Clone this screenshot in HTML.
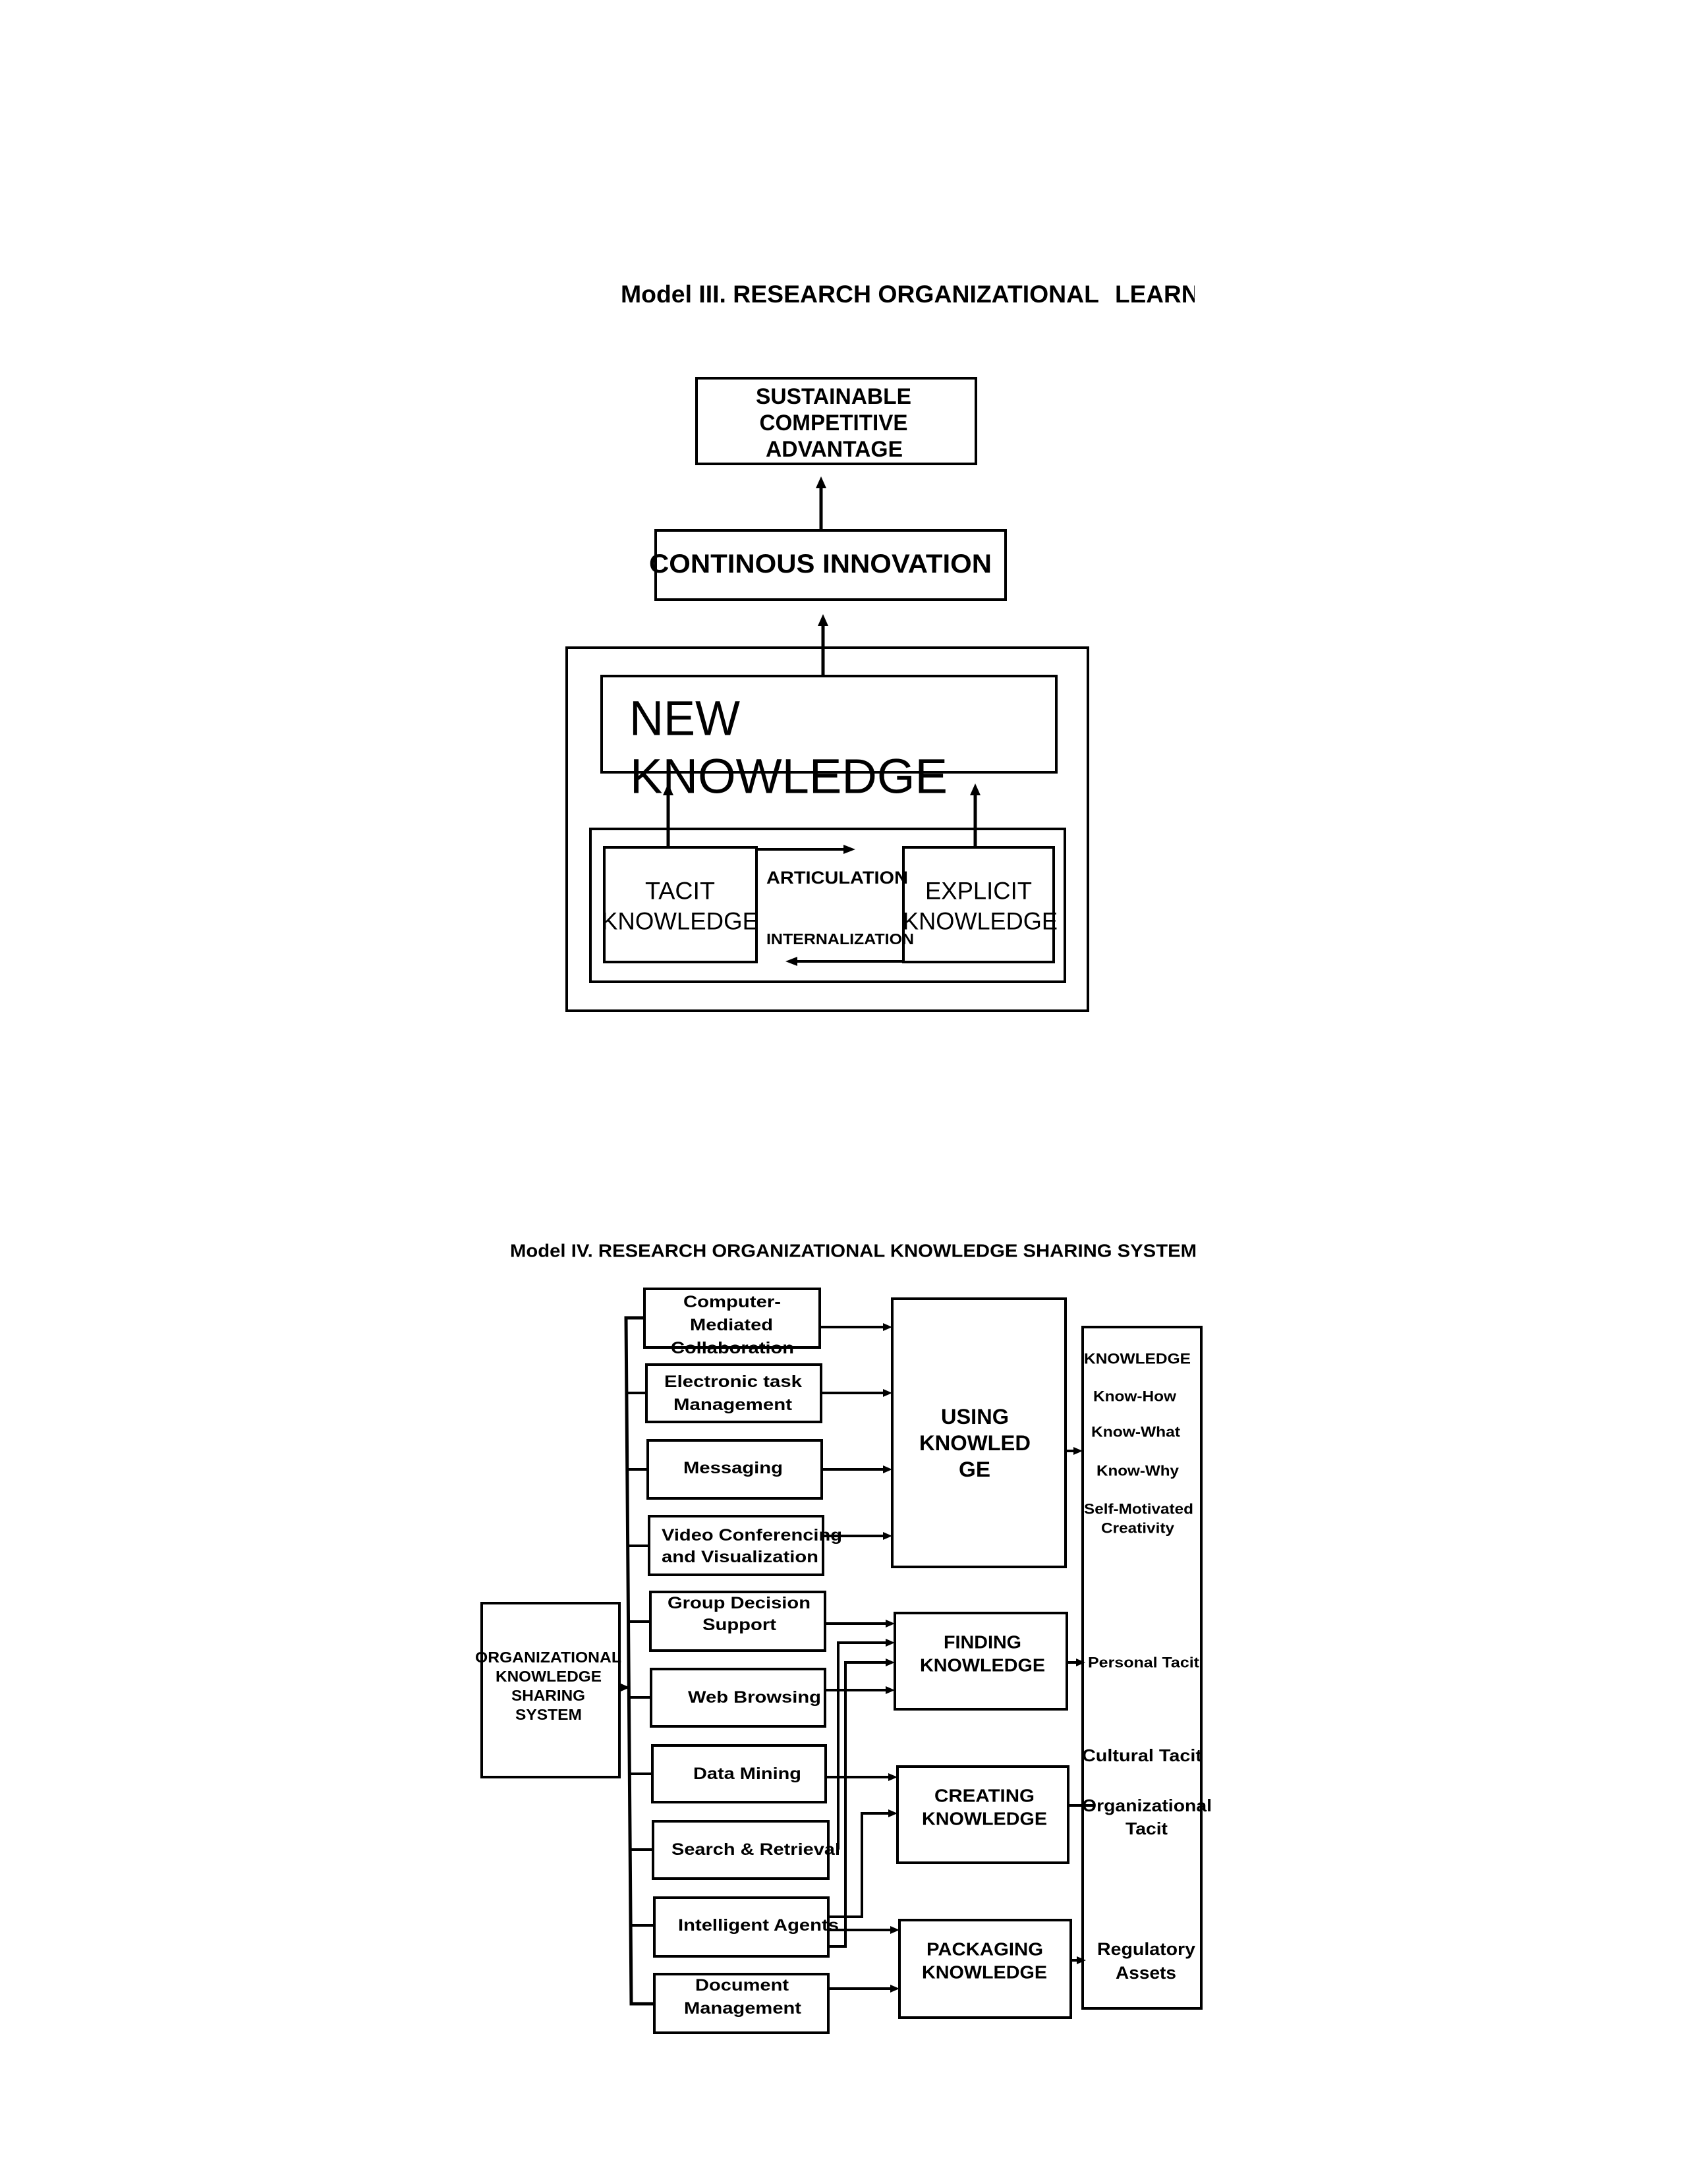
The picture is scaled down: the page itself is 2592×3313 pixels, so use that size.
<!DOCTYPE html>
<html><head><meta charset="utf-8"><style>
html,body{margin:0;padding:0;background:#fff;}
svg{display:block;}
text{font-family:"Liberation Sans",Arial,sans-serif;fill:#000;}
.b{font-weight:bold;}
</style></head><body>
<svg width="2592" height="3313" viewBox="0 0 2592 3313" xmlns="http://www.w3.org/2000/svg">
<defs>
<clipPath id="cl"><rect x="0" y="0" width="1813" height="3313"/></clipPath>
<marker id="ah" markerWidth="6" markerHeight="6" refX="5" refY="3" orient="auto" markerUnits="strokeWidth"><path d="M0,0 L6,3 L0,6 Z" fill="#000"/></marker>
</defs>
<rect width="2592" height="3313" fill="#fff"/>
<g stroke="#000" stroke-width="4" fill="none">
<!-- Model III -->
<rect x="1057" y="574" width="424" height="130"/>
<rect x="995" y="805" width="531" height="105"/>
<rect x="860" y="983" width="791" height="551"/>
<rect x="913" y="1026" width="690" height="146"/>
<rect x="896" y="1258" width="720" height="232"/>
<rect x="917" y="1286" width="231" height="174"/>
<rect x="1371" y="1286" width="228" height="174"/>
<line x1="1246" y1="805" x2="1246" y2="735" stroke-width="5"/>
<line x1="1249" y1="1026" x2="1249" y2="944" stroke-width="5"/>
<line x1="1014" y1="1286" x2="1014" y2="1200" stroke-width="5"/>
<line x1="1480" y1="1286" x2="1480" y2="1200" stroke-width="5"/>
<line x1="1146" y1="1289" x2="1285" y2="1289"/>
<line x1="1372" y1="1459" x2="1205" y2="1459"/>
</g>
<g fill="#000">
<polygon points="1246,723 1238,741 1254,741"/>
<polygon points="1249,932 1241,950 1257,950"/>
<polygon points="1014,1189 1006,1207 1022,1207"/>
<polygon points="1480,1189 1472,1207 1488,1207"/>
<polygon points="1298,1289 1280,1282 1280,1296"/>
<polygon points="1192,1459 1210,1452 1210,1466"/>
</g>
<text class="b" x="942" y="459" font-size="37" textLength="726" lengthAdjust="spacingAndGlyphs">Model III. RESEARCH ORGANIZATIONAL</text>
<text class="b" x="1692" y="459" font-size="37" clip-path="url(#cl)">LEARNING</text>
<g class="b" font-size="34" text-anchor="middle" dominant-baseline="central">
<text x="1265" y="602" textLength="236" lengthAdjust="spacingAndGlyphs">SUSTAINABLE</text>
<text x="1265" y="642" textLength="225" lengthAdjust="spacingAndGlyphs">COMPETITIVE</text>
<text x="1266" y="682" textLength="208" lengthAdjust="spacingAndGlyphs">ADVANTAGE</text>
<text x="1245" y="856" font-size="40" textLength="520" lengthAdjust="spacingAndGlyphs">CONTINOUS INNOVATION</text>
</g>
<g font-size="74" dominant-baseline="central">
<text x="955" y="1090" textLength="168" lengthAdjust="spacingAndGlyphs">NEW</text>
<text x="956" y="1178" textLength="482" lengthAdjust="spacingAndGlyphs">KNOWLEDGE</text>
</g>
<g font-size="37" dominant-baseline="central">
<text x="979" y="1352" textLength="106" lengthAdjust="spacingAndGlyphs">TACIT</text>
<text x="913" y="1398" textLength="238" lengthAdjust="spacingAndGlyphs">KNOWLEDGE</text>
<text x="1404" y="1352" textLength="162" lengthAdjust="spacingAndGlyphs">EXPLICIT</text>
<text x="1370" y="1398" textLength="235" lengthAdjust="spacingAndGlyphs">KNOWLEDGE</text>
</g>
<g class="b" dominant-baseline="central">
<text x="1163" y="1332" font-size="27" textLength="215" lengthAdjust="spacingAndGlyphs">ARTICULATION</text>
<text x="1163" y="1425" font-size="23" textLength="224" lengthAdjust="spacingAndGlyphs">INTERNALIZATION</text>
</g>

<!-- Model IV -->
<text class="b" x="774" y="1898" font-size="28" dominant-baseline="central" textLength="1042" lengthAdjust="spacingAndGlyphs">Model IV. RESEARCH ORGANIZATIONAL KNOWLEDGE SHARING SYSTEM</text>
<g stroke="#000" stroke-width="4" fill="none">
<rect x="731" y="2433" width="209" height="264"/>
<rect x="978" y="1956" width="266" height="89"/>
<rect x="981" y="2071" width="265" height="87"/>
<rect x="983" y="2186" width="264" height="88"/>
<rect x="985" y="2301" width="264" height="89"/>
<rect x="987" y="2416" width="265" height="89"/>
<rect x="988" y="2533" width="264" height="87"/>
<rect x="990" y="2649" width="263" height="86"/>
<rect x="991" y="2764" width="266" height="87"/>
<rect x="993" y="2880" width="264" height="89"/>
<rect x="993" y="2996" width="264" height="89"/>
<rect x="1354" y="1971" width="263" height="407"/>
<rect x="1358" y="2448" width="261" height="146"/>
<rect x="1362" y="2681" width="259" height="146"/>
<rect x="1365" y="2914" width="260" height="148"/>
<rect x="1643" y="2014" width="180" height="1034"/>
<!-- bus -->
<path d="M978,2000 H950 L958,3041 H993" stroke-width="5"/>
<path d="M951,2114 H981 M952,2230 H983 M953,2346 H985 M954,2461 H987 M955,2576 H988 M956,2692 H990 M957,2807 H991 M958,2922 H993"/>
<line x1="940" y1="2561" x2="944" y2="2561"/>
<!-- to USING -->
<line x1="1244" y1="2014" x2="1342" y2="2014"/>
<line x1="1246" y1="2114" x2="1342" y2="2114"/>
<line x1="1247" y1="2230" x2="1342" y2="2230"/>
<line x1="1249" y1="2331" x2="1342" y2="2331"/>
<!-- to FINDING -->
<line x1="1252" y1="2464" x2="1346" y2="2464"/>
<path d="M1272,2807 V2493 H1346"/>
<path d="M1257,2954 H1283 V2523 H1346"/>
<line x1="1252" y1="2565" x2="1346" y2="2565"/>
<!-- to CREATING -->
<line x1="1253" y1="2697" x2="1350" y2="2697"/>
<path d="M1257,2909 H1308 V2752 H1350"/>
<!-- to PACKAGING -->
<line x1="1257" y1="2929" x2="1353" y2="2929"/>
<line x1="1257" y1="3018" x2="1353" y2="3018"/>
<!-- right -->
<line x1="1617" y1="2202" x2="1632" y2="2202"/>
<line x1="1619" y1="2523" x2="1636" y2="2523"/>
<line x1="1621" y1="2740" x2="1660" y2="2740"/>
<line x1="1625" y1="2975" x2="1636" y2="2975"/>
</g>
<g fill="#000">
<polygon points="956,2561 942,2555 942,2567"/>
<polygon points="1354,2014 1340,2008 1340,2020"/>
<polygon points="1354,2114 1340,2108 1340,2120"/>
<polygon points="1354,2230 1340,2224 1340,2236"/>
<polygon points="1354,2331 1340,2325 1340,2337"/>
<polygon points="1358,2464 1344,2458 1344,2470"/>
<polygon points="1358,2493 1344,2487 1344,2499"/>
<polygon points="1358,2523 1344,2517 1344,2529"/>
<polygon points="1358,2565 1344,2559 1344,2571"/>
<polygon points="1362,2697 1348,2691 1348,2703"/>
<polygon points="1362,2752 1348,2746 1348,2758"/>
<polygon points="1365,2929 1351,2923 1351,2935"/>
<polygon points="1365,3018 1351,3012 1351,3024"/>
<polygon points="1643,2202 1629,2196 1629,2208"/>
<polygon points="1647,2523 1633,2517 1633,2529"/>
<polygon points="1648,2975 1634,2969 1634,2981"/>
</g>
<g class="b" font-size="25" dominant-baseline="central">
<text x="1037" y="1976" textLength="148" lengthAdjust="spacingAndGlyphs">Computer-</text>
<text x="1047" y="2011" textLength="126" lengthAdjust="spacingAndGlyphs">Mediated</text>
<text x="1018" y="2046" textLength="187" lengthAdjust="spacingAndGlyphs">Collaboration</text>
<text x="1008" y="2097" textLength="209" lengthAdjust="spacingAndGlyphs">Electronic task</text>
<text x="1022" y="2132" textLength="180" lengthAdjust="spacingAndGlyphs">Management</text>
<text x="1037" y="2228" textLength="151" lengthAdjust="spacingAndGlyphs">Messaging</text>
<text x="1004" y="2330" textLength="274" lengthAdjust="spacingAndGlyphs">Video Conferencing</text>
<text x="1004" y="2363" textLength="238" lengthAdjust="spacingAndGlyphs">and Visualization</text>
<text x="1013" y="2433" textLength="217" lengthAdjust="spacingAndGlyphs">Group Decision</text>
<text x="1066" y="2466" textLength="112" lengthAdjust="spacingAndGlyphs">Support</text>
<text x="1044" y="2576" textLength="202" lengthAdjust="spacingAndGlyphs">Web Browsing</text>
<text x="1052" y="2692" textLength="164" lengthAdjust="spacingAndGlyphs">Data Mining</text>
<text x="1019" y="2807" textLength="256" lengthAdjust="spacingAndGlyphs">Search &amp; Retrieval</text>
<text x="1029" y="2922" textLength="244" lengthAdjust="spacingAndGlyphs">Intelligent Agents</text>
<text x="1055" y="3013" textLength="142" lengthAdjust="spacingAndGlyphs">Document</text>
<text x="1038" y="3048" textLength="178" lengthAdjust="spacingAndGlyphs">Management</text>
</g>
<g class="b" font-size="23" dominant-baseline="central">
<text x="721" y="2515" textLength="222" lengthAdjust="spacingAndGlyphs">ORGANIZATIONAL</text>
<text x="752" y="2544" textLength="161" lengthAdjust="spacingAndGlyphs">KNOWLEDGE</text>
<text x="776" y="2573" textLength="112" lengthAdjust="spacingAndGlyphs">SHARING</text>
<text x="782" y="2602" textLength="101" lengthAdjust="spacingAndGlyphs">SYSTEM</text>
</g>
<g class="b" font-size="32" dominant-baseline="central">
<text x="1428" y="2150" textLength="103" lengthAdjust="spacingAndGlyphs">USING</text>
<text x="1395" y="2190" textLength="169" lengthAdjust="spacingAndGlyphs">KNOWLED</text>
<text x="1455" y="2230" textLength="48" lengthAdjust="spacingAndGlyphs">GE</text>
</g>
<g class="b" font-size="28" dominant-baseline="central">
<text x="1432" y="2492" textLength="118" lengthAdjust="spacingAndGlyphs">FINDING</text>
<text x="1396" y="2527" textLength="190" lengthAdjust="spacingAndGlyphs">KNOWLEDGE</text>
<text x="1418" y="2725" textLength="152" lengthAdjust="spacingAndGlyphs">CREATING</text>
<text x="1399" y="2760" textLength="190" lengthAdjust="spacingAndGlyphs">KNOWLEDGE</text>
<text x="1406" y="2958" textLength="177" lengthAdjust="spacingAndGlyphs">PACKAGING</text>
<text x="1399" y="2993" textLength="190" lengthAdjust="spacingAndGlyphs">KNOWLEDGE</text>
</g>
<g class="b" font-size="22" dominant-baseline="central">
<text x="1645" y="2062" textLength="162" lengthAdjust="spacingAndGlyphs">KNOWLEDGE</text>
<text x="1659" y="2119" textLength="126" lengthAdjust="spacingAndGlyphs">Know-How</text>
<text x="1656" y="2173" textLength="135" lengthAdjust="spacingAndGlyphs">Know-What</text>
<text x="1664" y="2232" textLength="125" lengthAdjust="spacingAndGlyphs">Know-Why</text>
<text x="1645" y="2290" textLength="166" lengthAdjust="spacingAndGlyphs">Self-Motivated</text>
<text x="1671" y="2319" textLength="111" lengthAdjust="spacingAndGlyphs">Creativity</text>
<text x="1651" y="2523" textLength="169" lengthAdjust="spacingAndGlyphs">Personal Tacit</text>
<text x="1642" y="2664" font-size="26" textLength="182" lengthAdjust="spacingAndGlyphs">Cultural Tacit</text>
<text x="1642" y="2740" font-size="26" textLength="197" lengthAdjust="spacingAndGlyphs">Organizational</text>
<text x="1708" y="2775" font-size="26" textLength="64" lengthAdjust="spacingAndGlyphs">Tacit</text>
<text x="1665" y="2958" font-size="27" textLength="149" lengthAdjust="spacingAndGlyphs">Regulatory</text>
<text x="1693" y="2994" font-size="27" textLength="92" lengthAdjust="spacingAndGlyphs">Assets</text>
</g>
</svg>
</body></html>
